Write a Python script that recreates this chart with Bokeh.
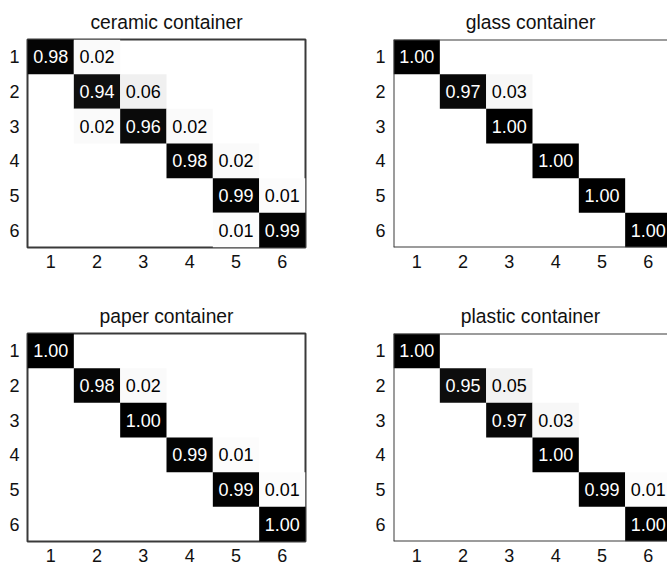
from bokeh.plotting import figure
from bokeh.layouts import gridplot
from bokeh.models import ColumnDataSource, FixedTicker, Span
from bokeh.core.properties import value
from bokeh.embed import file_html
from bokeh.resources import INLINE

# ---- data ----
class_labels = ["1", "2", "3", "4", "5", "6"]
titles = ["ceramic container", "glass container", "paper container", "plastic container"]

ceramic = [
    [0.98, 0.02, 0.00, 0.00, 0.00, 0.00],
    [0.00, 0.94, 0.06, 0.00, 0.00, 0.00],
    [0.00, 0.02, 0.96, 0.02, 0.00, 0.00],
    [0.00, 0.00, 0.00, 0.98, 0.02, 0.00],
    [0.00, 0.00, 0.00, 0.00, 0.99, 0.01],
    [0.00, 0.00, 0.00, 0.00, 0.01, 0.99],
]
glass = [
    [1.00, 0.00, 0.00, 0.00, 0.00, 0.00],
    [0.00, 0.97, 0.03, 0.00, 0.00, 0.00],
    [0.00, 0.00, 1.00, 0.00, 0.00, 0.00],
    [0.00, 0.00, 0.00, 1.00, 0.00, 0.00],
    [0.00, 0.00, 0.00, 0.00, 1.00, 0.00],
    [0.00, 0.00, 0.00, 0.00, 0.00, 1.00],
]
paper = [
    [1.00, 0.00, 0.00, 0.00, 0.00, 0.00],
    [0.00, 0.98, 0.02, 0.00, 0.00, 0.00],
    [0.00, 0.00, 1.00, 0.00, 0.00, 0.00],
    [0.00, 0.00, 0.00, 0.99, 0.01, 0.00],
    [0.00, 0.00, 0.00, 0.00, 0.99, 0.01],
    [0.00, 0.00, 0.00, 0.00, 0.00, 1.00],
]
plastic = [
    [1.00, 0.00, 0.00, 0.00, 0.00, 0.00],
    [0.00, 0.95, 0.05, 0.00, 0.00, 0.00],
    [0.00, 0.00, 0.97, 0.03, 0.00, 0.00],
    [0.00, 0.00, 0.00, 1.00, 0.00, 0.00],
    [0.00, 0.00, 0.00, 0.00, 0.99, 0.01],
    [0.00, 0.00, 0.00, 0.00, 0.00, 1.00],
]

FONT = "Liberation Sans"
EDGE = "#3a3a3a"


def gray(v):
    g = int(round((1.0 - v) * 255))
    return "#%02x%02x%02x" % (g, g, g)


def panel(title, mat, width, height, bl, br, bt, bb, clipped=False):
    x_end = 6.414 if clipped else 6.5
    p = figure(width=width, height=height, x_range=(0.5, x_end), y_range=(6.5, 0.5),
               output_backend="svg", toolbar_location=None, tools="",
               min_border_left=bl, min_border_right=br,
               min_border_top=bt, min_border_bottom=bb,
               background_fill_color="white", border_fill_color="white")
    p.title.text = title
    p.title.align = "center"
    p.title.text_font = FONT
    p.title.text_font_size = "19.3px"
    p.title.text_font_style = "normal"
    p.title.text_color = "#111111"
    p.title.standoff = 14
    if clipped:
        p.title.offset = 4

    xs, ys, fills, txt, tcol = [], [], [], [], []
    for r, row in enumerate(mat):
        for c, v in enumerate(row):
            if v <= 0:
                continue
            xs.append(c + 1)
            ys.append(r + 1)
            fills.append(gray(v))
            txt.append("%.2f" % v)
            tcol.append("white" if v > 0.5 else "black")
    src = ColumnDataSource(dict(x=xs, y=ys, fill=fills, text=txt, tcol=tcol))
    p.rect(x="x", y="y", width=1, height=1, source=src, fill_color="fill",
           line_color=None)
    p.text(x="x", y="y", text="text", source=src, text_color="tcol",
           text_align="center", text_baseline="middle",
           text_font=value(FONT), text_font_size="18px")

    p.xgrid.visible = False
    p.ygrid.visible = False
    ticks = [int(t) for t in class_labels]
    for ax in (p.xaxis[0], p.yaxis[0]):
        ax.ticker = FixedTicker(ticks=ticks)
        ax.major_label_overrides = {int(t): t for t in class_labels}
        ax.axis_line_color = None
        ax.major_tick_line_color = None
        ax.minor_tick_line_color = None
        ax.major_tick_out = 0
        ax.major_tick_in = 0
        ax.major_label_text_font = FONT
        ax.major_label_text_font_size = "18px"
        ax.major_label_text_color = "#111111"
    p.xaxis.major_label_standoff = 7
    p.yaxis.major_label_standoff = 8
    if clipped:
        p.outline_line_color = None
        p.add_layout(Span(location=0.5, dimension="height", line_color=EDGE, line_width=2))
        p.add_layout(Span(location=0.5, dimension="width", line_color=EDGE, line_width=2))
        p.add_layout(Span(location=6.5, dimension="width", line_color=EDGE, line_width=2))
    else:
        p.outline_line_color = EDGE
        p.outline_line_width = 2
        p.outline_line_alpha = 1
    return p


W_L, W_R = 366, 301
H_T, H_B = 290, 275

p1 = panel(titles[0], ceramic, W_L, H_T, 27, 61, 39, 43)
p2 = panel(titles[1], glass, W_R, H_T, 27, 0, 39, 43, clipped=True)
p3 = panel(titles[2], paper, W_L, H_B, 27, 61, 43, 24)
p4 = panel(titles[3], plastic, W_R, H_B, 27, 0, 43, 24, clipped=True)

grid = gridplot([[p1, p2], [p3, p4]], toolbar_location=None)

open("out.html", "w").write(file_html(grid, INLINE))
